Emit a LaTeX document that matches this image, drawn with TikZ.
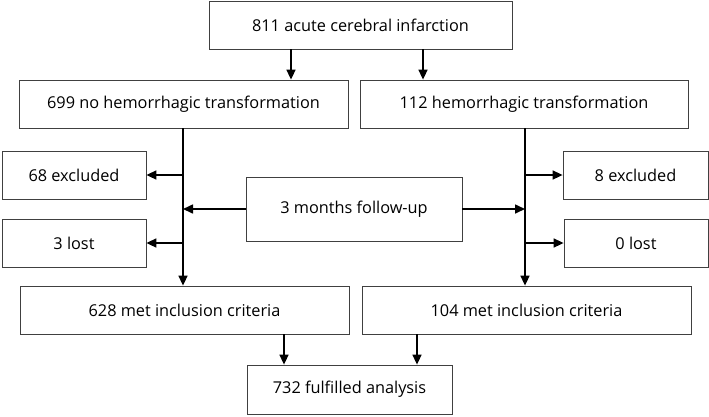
\documentclass[tikz,border=0pt]{standalone}
\usepackage{fontspec}
\setmainfont{Open Sans}
\usetikzlibrary{arrows.meta}
\colorlet{boxLine}{black!75}
\colorlet{flowLine}{black}
\tikzset{
  stepbox/.style={draw=boxLine,line width=0.8pt,inner sep=0pt,font=\fontsize{16.3}{18}\selectfont},
  flow/.style={flowLine,line width=1.6pt,-{Triangle[length=10pt,width=9pt]}}
}

\begin{document}
\begin{tikzpicture}[x=1pt,y=-1pt]
\useasboundingbox (0,0) rectangle (709,416);
\node[stepbox,minimum width=303pt,minimum height=48pt] (acute) at (360.5,25) {811 acute cerebral infarction};
\node[stepbox,minimum width=329pt,minimum height=48pt] (noHT) at (183.5,104) {699 no hemorrhagic transformation};
\node[stepbox,minimum width=328pt,minimum height=48pt] (HT) at (524,104) {112 hemorrhagic transformation};
\node[stepbox,minimum width=144pt,minimum height=48pt] (exclNo) at (74,175) {68 excluded};
\node[stepbox,minimum width=144pt,minimum height=48pt] (lostNo) at (74,243) {3 lost};
\node[stepbox,minimum width=216pt,minimum height=64pt] (follow) at (354,209) {3 months follow-up};
\node[stepbox,minimum width=145pt,minimum height=48pt] (exclHT) at (635.5,175) {8 excluded};
\node[stepbox,minimum width=144pt,minimum height=48pt] (lostHT) at (636,243) {0 lost};
\node[stepbox,minimum width=329pt,minimum height=48pt] (metNo) at (184.5,310) {628 met inclusion criteria};
\node[stepbox,minimum width=329pt,minimum height=48pt] (metHT) at (526.5,310) {104 met inclusion criteria};
\node[stepbox,minimum width=205pt,minimum height=49pt] (final) at (349.5,389.5) {732 fulfilled analysis};
\coordinate (splitNo) at (183,0);
\coordinate (splitHT) at (525,0);
\draw[flow] (acute.south -| 291,0) -- (291,0 |- noHT.north);
\draw[flow] (acute.south -| 423,0) -- (423,0 |- HT.north);
\draw[flow] (splitNo |- noHT.south) -- (splitNo |- metNo.north);
\draw[flow] (splitHT |- HT.south) -- (splitHT |- metHT.north);
\draw[flow] (splitNo |- exclNo) -- (exclNo.east);
\draw[flow] (splitNo |- lostNo) -- (lostNo.east);
\draw[flow] (splitHT |- exclHT) -- (exclHT.west);
\draw[flow] (splitHT |- lostHT) -- (lostHT.west);
\draw[flow] (follow.west) -- (splitNo |- follow);
\draw[flow] (follow.east) -- (splitHT |- follow);
\draw[flow] (metNo.south -| 284,0) -- (284,0 |- final.north);
\draw[flow] (metHT.south -| 417,0) -- (417,0 |- final.north);
\end{tikzpicture}
\end{document}
